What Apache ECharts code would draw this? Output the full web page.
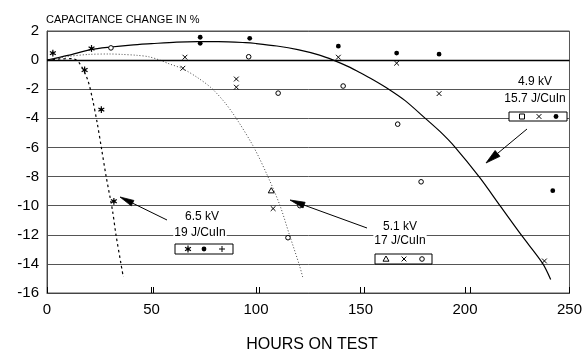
<!DOCTYPE html>
<html><head><meta charset="utf-8">
<script src="https://cdn.jsdelivr.net/npm/echarts@6/dist/echarts.min.js"></script>
<style>html,body{margin:0;padding:0;background:#fff}#c{width:585px;height:356px}</style>
</head><body><div id="c"></div>
<script>
// ---- axes ----
const xRange = [0, 250];
const xStep = 50;
const xTickMarks = [50, 100, 150, 200];
const yRange = [-16, 2];
const yStep = 2;

// ---- fitted curves (hours, % change) ----
const curve49 = [[0,0],[10,0.32],[21,0.72],[30.6,0.9],[40,1.03],[50,1.13],[62,1.24],[72,1.27],[82,1.27],[95,1.2],[100,1.14],[110,0.97],[120,0.72],[130,0.36],[137,0],[145,-0.5],[149,-0.8],[156,-1.35],[163.5,-2.0],[171.5,-2.8],[181,-4.0],[188,-4.9],[195,-5.94],[207,-8.06],[217,-10.05],[227,-12.03],[237,-13.93],[241,-15.07]];
const curve51 = [[0,0],[10,0.25],[20,0.39],[30,0.42],[36,0.39],[43,0.33],[48.7,0.23],[54,0],[58,-0.23],[65,-0.6],[72,-1.2],[78.5,-1.9],[85,-2.9],[91,-4.1],[99,-6],[106,-8.1],[111.5,-10],[116,-12],[121,-14.2],[122.5,-15]];
const curve65 = [[0,0],[6,0.08],[12.4,0.1],[15.6,-0.23],[19.5,-1.37],[21.8,-2.7],[24,-4.3],[26,-6],[28.3,-8],[31.3,-10.3],[33,-12],[35.4,-14],[36.5,-14.9]];

// ---- measured points, grouped by marker ----
const asteriskPts = [[2.8,0.48],[21.3,0.8],[18,-0.68],[26,-3.4],[32,-9.7]];
const dotPts = [[73.3,1.57],[73.3,1.15],[97,1.5],[139.4,0.96],[167.3,0.48],[187.6,0.41],[242,-8.97]];
const crossPts = [[66,0.2],[65,-0.56],[90.6,-1.3],[90.6,-1.86],[139.4,0.2],[167.3,-0.21],[187.6,-2.3],[238,-13.8],[108.2,-10.2]];
const circlePts = [[30.6,0.84],[96.5,0.23],[110.6,-2.27],[141.7,-1.78],[167.8,-4.4],[179,-8.36],[115.3,-12.2],[121,-10.0]];
const trianglePts = [[107.3,-8.97]];

const FONT = 'Liberation Sans, Arial, sans-serif';
const GRID = {left:47, right:9, top:31, bottom:63};
const W = 585, H = 356;

function shapes(kind, x, y) {
  const L = (x1,y1,x2,y2,w) => ({type:'line', shape:{x1,y1,x2,y2}, style:{stroke:'#000', lineWidth:w||1}});
  switch(kind){
    case 'asterisk': {
      const r = 3.4, out = [];
      for (const a of [90, 30, 150]) {
        const t = a*Math.PI/180, dx = r*Math.cos(t), dy = r*Math.sin(t);
        out.push(L(x-dx,y-dy,x+dx,y+dy,1.2));
      }
      out.push({type:'circle', shape:{cx:x,cy:y,r:1.5}, style:{fill:'#000'}});
      return out;
    }
    case 'dot': return [{type:'circle', shape:{cx:x,cy:y,r:2.4}, style:{fill:'#000'}}];
    case 'plus': return [L(x-3,y,x+3,y), L(x,y-3,x,y+3)];
    case 'cross': return [L(x-2.4,y-2.4,x+2.4,y+2.4), L(x-2.4,y+2.4,x+2.4,y-2.4)];
    case 'circle': return [{type:'circle', shape:{cx:x,cy:y,r:2.3}, style:{fill:'#fff', stroke:'#000', lineWidth:1}}];
    case 'square': return [{type:'rect', shape:{x:x-2.5,y:y-2.5,width:5,height:5}, style:{fill:'#fff', stroke:'#000', lineWidth:1}}];
    case 'triangle': return [{type:'polygon', shape:{points:[[x,y-3],[x-3,y+2.2],[x+3,y+2.2]]}, style:{fill:'#fff', stroke:'#000', lineWidth:1}}];
  }
  return [];
}

function markerSeries(kind, data) {
  return {
    type:'custom', data, encode:{x:0,y:1}, z:5,
    renderItem: (params, api) => {
      const p = api.coord([api.value(0), api.value(1)]);
      return {type:'group', children: shapes(kind, p[0], p[1])};
    }
  };
}

function arrow(tail, tip, len, half) {
  const dx = tail[0]-tip[0], dy = tail[1]-tip[1], d = Math.hypot(dx,dy);
  const ux = dx/d, uy = dy/d, bx = tip[0]+ux*len, by = tip[1]+uy*len;
  return [
    {type:'line', z:50, shape:{x1:tail[0],y1:tail[1],x2:bx,y2:by}, style:{stroke:'#000', lineWidth:1}},
    {type:'polygon', z:50, shape:{points:[tip,[bx-uy*half,by+ux*half],[bx+uy*half,by-ux*half]]}, style:{fill:'#000', stroke:'#000', lineWidth:0.8}}
  ];
}
function label(text, x, y) {
  return {type:'text', z:60, style:{text, x, y, fill:'#000', font:'12px '+FONT, align:'center', verticalAlign:'middle', backgroundColor:'#fff', padding:[1,1]}};
}
function box(x0, y0, x1, y1, items) {
  const out = [{type:'rect', z:60, shape:{x:x0,y:y0,width:x1-x0,height:y1-y0}, style:{fill:'#fff', stroke:'#000', lineWidth:1}}];
  const cy = (y0+y1)/2;
  for (const [k, x] of items) {
    const g = shapes(k, x, cy);
    g.forEach(e => { e.z = 61; out.push(e); });
  }
  return out;
}

// inward ticks on the bottom frame, from the grid layout
const plotW = W - GRID.left - GRID.right, baseY = H - GRID.bottom;
const tickGraphics = xTickMarks.map(v => {
  const x = Math.round(GRID.left + (v - xRange[0]) / (xRange[1] - xRange[0]) * plotW) + 0.5;
  return {type:'line', z:70, shape:{x1:x, y1:baseY, x2:x, y2:baseY-6}, style:{stroke:'#000', lineWidth:1}};
});

const graphics = [].concat(
  tickGraphics,
  arrow([167,220],[120,197],14,3),
  arrow([367,228],[290,200],15,3),
  arrow([527,129],[486,163],15,3.8),
  [label('6.5 kV',202,217), label('19 J/CuIn',200,233)],
  box(175,244,233,254,[['asterisk',188],['dot',204],['plus',222]]),
  [label('5.1 kV',400,227), label('17 J/CuIn',400,241)],
  box(375,254,432,264,[['triangle',386],['cross',404],['circle',422]]),
  [label('4.9 kV',535,82), label('15.7 J/CuIn',535,99)],
  box(509,112,567,121,[['square',522],['cross',539],['dot',556]]),
  [{type:'text', z:60, style:{text:'HOURS ON TEST', x:312, y:345, fill:'#000', font:'16px '+FONT, align:'center', verticalAlign:'middle'}}]
);

const chart = echarts.init(document.getElementById('c'));
chart.setOption({
  animation:false,
  backgroundColor:'#fff',
  title:{text:'CAPACITANCE CHANGE IN %', left:41, top:9, textStyle:{fontSize:11, fontWeight:'normal', color:'#000', fontFamily:FONT}},
  grid:{left:GRID.left, right:GRID.right, top:GRID.top, bottom:GRID.bottom, show:true, borderColor:'#555', borderWidth:1},
  xAxis:{type:'value', min:xRange[0], max:xRange[1], interval:xStep,
    axisLine:{onZero:false, lineStyle:{color:'#444', width:1}},
    axisTick:{show:true, inside:true, length:6, lineStyle:{color:'#000', width:1}},
    axisLabel:{fontSize:15, color:'#000', fontFamily:FONT, margin:9},
    splitLine:{show:false}},
  yAxis:{type:'value', min:yRange[0], max:yRange[1], interval:yStep,
    axisLine:{show:true, onZero:false, lineStyle:{color:'#444', width:1}},
    axisTick:{show:false},
    axisLabel:{fontSize:15, color:'#000', fontFamily:FONT, margin:8},
    splitLine:{show:true, lineStyle:{color:'#555', width:1}}},
  series:[
    {type:'line', data:curve49, smooth:0.3, showSymbol:false, z:3,
     lineStyle:{color:'#000', width:1.2},
     markLine:{silent:true, symbol:'none', label:{show:false}, data:[{yAxis:0}], lineStyle:{color:'#000', width:1.3, type:'solid'}}},
    {type:'line', data:curve51, smooth:0.3, showSymbol:false, z:3,
     lineStyle:{color:'#444', width:1, type:[1,2]}},
    {type:'line', data:curve65, smooth:0.3, showSymbol:false, z:3,
     lineStyle:{color:'#000', width:1.2, type:[2.5,3]}},
    markerSeries('asterisk', asteriskPts),
    markerSeries('dot', dotPts),
    markerSeries('cross', crossPts),
    markerSeries('circle', circlePts),
    markerSeries('triangle', trianglePts)
  ],
  graphic: graphics
});
</script></body></html>
